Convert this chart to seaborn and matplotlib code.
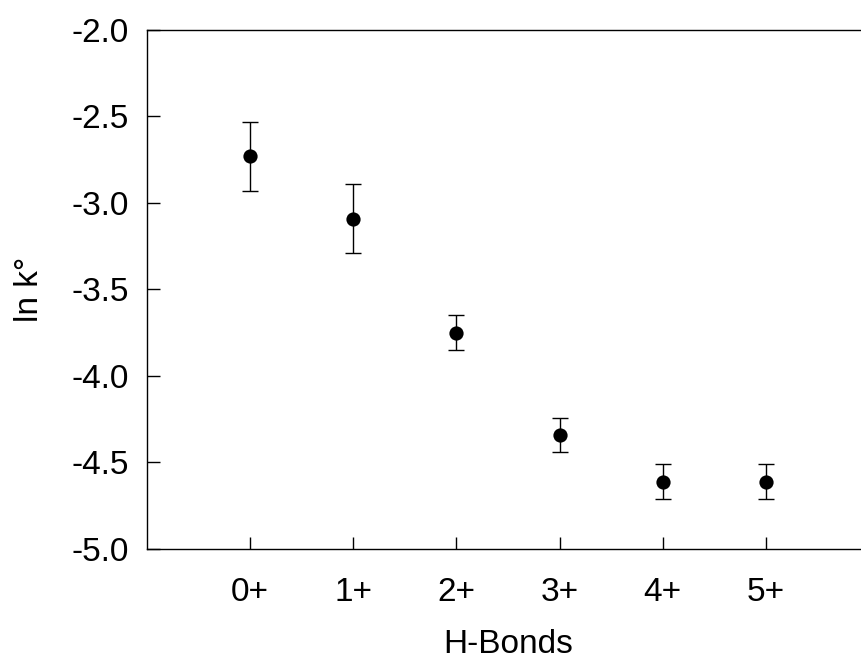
import numpy as np
import matplotlib
matplotlib.use("Agg")
import matplotlib.pyplot as plt
import seaborn as sns

# --- Data ---
categories = ["0+", "1+", "2+", "3+", "4+", "5+"]
ln_k = [-2.73, -3.09, -3.75, -4.34, -4.61, -4.61]
err = [0.20, 0.20, 0.10, 0.10, 0.10, 0.10]

sns.set_style("ticks")
plt.rcParams["font.family"] = ["Liberation Sans", "DejaVu Sans"]

fig = plt.figure(figsize=(8.61, 6.62), dpi=100)
ax = fig.add_axes([0.1707, 0.1707, 0.8386, 0.784])

x = np.arange(len(categories))
ax.errorbar(x, ln_k, yerr=err, fmt="none", ecolor="black",
            elinewidth=1.0, capsize=6, capthick=1.0, zorder=2)
sns.scatterplot(x=x, y=ln_k, ax=ax, color="black", s=105,
                edgecolor="black", linewidth=0, zorder=3, legend=False)

ax.set_xlim(-1, 6)
ax.set_ylim(-5.0, -2.0)
ax.set_xticks(x)
ax.set_xticklabels(categories)
ax.set_yticks(np.arange(-5.0, -1.99, 0.5))
ax.set_yticklabels([f"{v:.1f}" for v in np.arange(-5.0, -1.99, 0.5)])

ax.tick_params(axis="both", direction="in", length=9, width=1.0,
               labelsize=24, colors="black")
ax.tick_params(axis="y", pad=13)
ax.tick_params(axis="x", pad=20)

ax.set_xlabel("H-Bonds", fontsize=24, labelpad=15, color="black")
ax.set_ylabel("ln k°", fontsize=24, labelpad=19, color="black")

for side in ["left", "bottom", "top"]:
    ax.spines[side].set_color("black")
    ax.spines[side].set_linewidth(1.0)
ax.spines["right"].set_visible(False)

fig.savefig("out.png", dpi=100)
